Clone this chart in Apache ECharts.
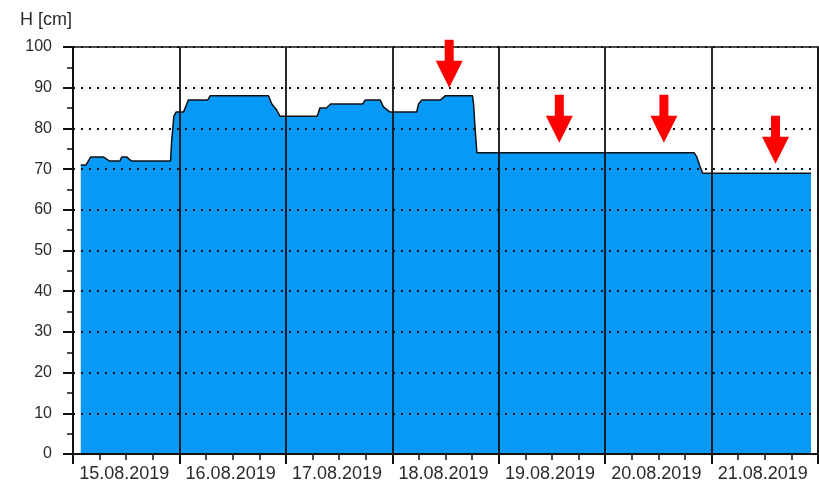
<!DOCTYPE html>
<html>
<head>
<meta charset="utf-8">
<script src="https://cdn.jsdelivr.net/npm/echarts@6/dist/echarts.min.js"></script>
<style>html,body{margin:0;padding:0;background:#fff}#c{width:819px;height:484px}</style>
</head>
<body>
<div id="c"></div>
<script>
// Water level H [cm], times in UTC
const times = [
  '2019-08-15 01:45','2019-08-15 02:55','2019-08-15 04:00','2019-08-15 06:50','2019-08-15 08:10',
  '2019-08-15 10:35','2019-08-15 11:00','2019-08-15 12:05','2019-08-15 13:10','2019-08-15 22:00',
  '2019-08-15 22:15','2019-08-15 22:45','2019-08-15 23:15','2019-08-16 00:55','2019-08-16 01:40',
  '2019-08-16 02:00','2019-08-16 06:25','2019-08-16 06:55','2019-08-16 20:05','2019-08-16 20:50',
  '2019-08-16 21:55','2019-08-16 22:40','2019-08-17 07:05','2019-08-17 07:40','2019-08-17 09:10',
  '2019-08-17 10:05','2019-08-17 17:20','2019-08-17 17:55','2019-08-17 21:15','2019-08-17 22:00',
  '2019-08-17 23:30','2019-08-18 05:30','2019-08-18 05:55','2019-08-18 06:40','2019-08-18 10:55',
  '2019-08-18 11:55','2019-08-18 18:05','2019-08-18 18:20','2019-08-18 18:40','2019-08-18 19:05',
  '2019-08-20 20:05','2019-08-20 20:40','2019-08-20 21:25','2019-08-20 22:00','2019-08-21 22:25'
];
const levels = [
  71, 71, 73, 73, 72,
  72, 73, 73, 72, 72,
  77, 83, 84, 84, 86,
  87, 87, 88, 88, 86,
  84.5, 83, 83, 85, 85,
  86, 86, 87, 87, 85.3,
  84, 84, 86, 87, 87,
  88, 88, 86, 80, 74,
  74, 73, 70.6, 69, 69
];
const dayLabels = ['15.08.2019','16.08.2019','17.08.2019','18.08.2019','19.08.2019','20.08.2019','21.08.2019'];
const axisStart = '2019-08-15 00:00';
const axisEnd = '2019-08-22 00:00';
const yTicks = [0, 100, 10];
// red arrow annotations: tip time and tip level
const arrowTimes = ['2019-08-18 12:50','2019-08-19 13:40','2019-08-20 13:15','2019-08-21 14:25'];
const arrowLevels = [90.0, 76.5, 76.5, 71.3];

const toMs = s => Date.parse(s.replace(' ', 'T') + ':00Z');
const DAY = 86400000;
const seriesData = times.map((t, i) => [toMs(t), levels[i]]);
const arrowData = arrowTimes.map((t, i) => [toMs(t), arrowLevels[i]]);

const font = '"Liberation Sans", Arial, sans-serif';
const ink = '#111';
const chart = echarts.init(document.getElementById('c'), null, {renderer: 'canvas'});
chart.setOption({
  animation: false,
  grid: {left: 73, right: 1, top: 47, bottom: 30, show: true, borderColor: ink, borderWidth: 1.5, backgroundColor: 'transparent'},
  xAxis: [{
    type: 'value', min: toMs(axisStart), max: toMs(axisEnd), interval: DAY,
    axisLine: {show: true, lineStyle: {color: ink, width: 2}},
    axisTick: {show: true, length: 10, lineStyle: {color: ink, width: 2}},
    minorTick: {show: true, splitNumber: 4, length: 6, lineStyle: {color: ink, width: 1.5}},
    axisLabel: {show: false},
    splitLine: {show: true, lineStyle: {color: ink, width: 1.8, type: 'solid'}}
  }, {
    type: 'category', data: dayLabels, position: 'bottom', boundaryGap: true,
    axisLine: {show: false}, axisTick: {show: false}, splitLine: {show: false},
    axisLabel: {show: true, interval: 0, margin: 11, fontSize: 18, fontFamily: font, color: '#2a2a2a', padding: [0, 4, 0, 0]}
  }],
  yAxis: {
    type: 'value', min: yTicks[0], max: yTicks[1], interval: yTicks[2],
    name: 'H [cm]', nameLocation: 'end', nameGap: 18,
    nameTextStyle: {fontSize: 18, fontFamily: font, color: '#2a2a2a', align: 'right', padding: [0, 1, 0, 0]},
    axisLine: {show: true, lineStyle: {color: ink, width: 2}},
    axisTick: {show: true, length: 10, lineStyle: {color: ink, width: 2}},
    minorTick: {show: true, splitNumber: 2, length: 6, lineStyle: {color: ink, width: 1.5}},
    axisLabel: {margin: 21, fontSize: 16, fontFamily: font, color: '#2a2a2a'},
    splitLine: {show: true, lineStyle: {color: ink, width: 2, type: [2, 6]}}
  },
  series: [{
    type: 'line', xAxisIndex: 0, data: seriesData, z: -1,
    symbol: 'none', smooth: false,
    lineStyle: {color: ink, width: 1.5},
    areaStyle: {color: '#0799F7', opacity: 1, origin: 'start'}
  }, {
    type: 'scatter', xAxisIndex: 0, data: arrowData, z: 10,
    symbol: 'path://M9,0L18,0L18,21L27,21L13.5,48L0,21L9,21Z',
    symbolSize: [27, 48], symbolOffset: [0, '-50%'],
    itemStyle: {color: '#FF0000', opacity: 1}, silent: true
  }]
});
</script>
</body>
</html>
